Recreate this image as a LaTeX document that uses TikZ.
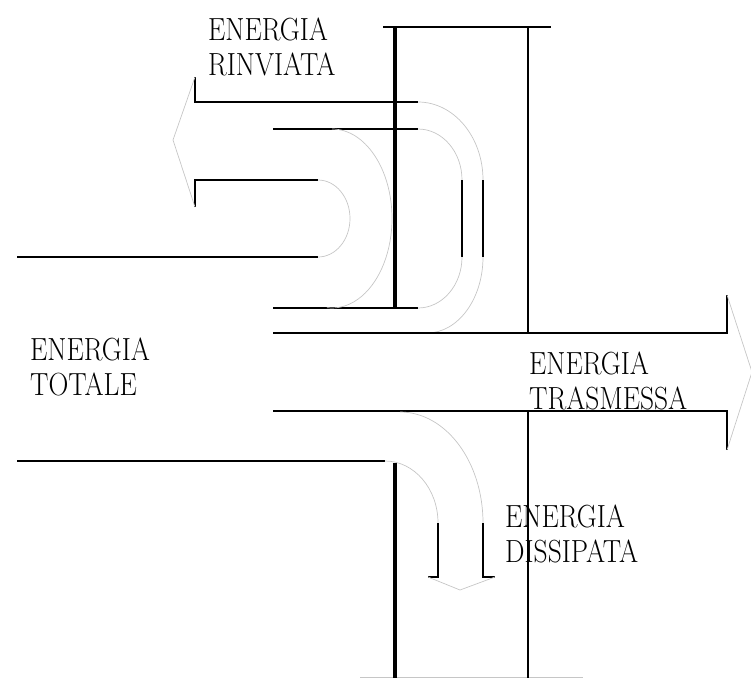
\documentclass[tikz,border=0pt]{standalone}
\usepackage{graphicx}
\usepackage{tikz}

% narrow two-line label
\newcommand{\lbl}[2]{\scalebox{0.86}[1]{\begin{tabular}[t]{@{}l@{}}#1\\#2\end{tabular}}}

\tikzset{
  pipe/.style={line width=1.2pt},
  wallA/.style={line width=3.5pt},
  wallB/.style={line width=2.4pt},
  flow/.style={gray!45, line width=0.7pt},
  lbltext/.style={font=\fontsize{32}{35}\selectfont, inner sep=0pt, anchor=base west}
}

\begin{document}
\begin{tikzpicture}[x=1pt,y=-1pt]
    \useasboundingbox (0,0) rectangle (751,678);

    % Walls:
    \draw [pipe] (383,27) -- (551,27);
    \draw [flow] (360,677) -- (583,677);
    \draw [wallA] (395,27) -- (395,308);
    \draw [wallA] (395,463) -- (395,678);
    \draw [wallB] (528,27) -- (528,333);
    \draw [wallB] (528,411) -- (528,678);

    % Incoming energy:
    \draw [pipe] (17,257) -- (318,257);
    \draw [pipe] (17,461) -- (385,461);

    % Reflected energy:
    \draw [pipe] (195,77) -- (195,102) -- (418,102);
    \draw [pipe] (195,207) -- (195,180) -- (318,180);
    \draw [flow] (195,77) -- (173,140) -- (195,207);
    \draw [flow] (318,180) arc [start angle=-90, end angle=90, x radius=32, y radius=38.5];
    \draw [pipe] (273,129) -- (418,129);
    \draw [pipe] (273,308) -- (418,308);
    \draw [flow] (332,129) arc [start angle=-90, end angle=95, x radius=60, y radius=89.5];
    \draw [flow] (418,102) arc [start angle=-90, end angle=0, x radius=65, y radius=78];
    \draw [pipe] (483,180) -- (483,257);
    \draw [flow] (483,257) arc [start angle=0, end angle=90, x radius=56, y radius=76];
    \draw [flow] (418,129) arc [start angle=-90, end angle=0, x radius=44, y radius=51];
    \draw [pipe] (462,180) -- (462,257);
    \draw [flow] (462,257) arc [start angle=0, end angle=90, x radius=44, y radius=51];

    % Transmitted energy:
    \draw [pipe] (273,333) -- (727,333) -- (727,295);
    \draw [pipe] (273,411) -- (727,411) -- (727,450);
    \draw [flow] (727,295) -- (752,372) -- (727,450);

    % Dissipated energy:
    \draw [flow] (400,412) arc [start angle=-90, end angle=0, x radius=83, y radius=111];
    \draw [pipe] (483,523) -- (483,577) -- (495,577);
    \draw [flow] (385,461) arc [start angle=-90, end angle=0, x radius=53, y radius=62];
    \draw [pipe] (438,523) -- (438,577) -- (428,577);
    \draw [flow] (428,577) -- (460,590) -- (495,577);

    % Labels:
    \node [lbltext] (tot)  at (30,360)  {\lbl{ENERGIA}{TOTALE}};
    \node [lbltext] (rinv) at (208,40)  {\lbl{ENERGIA}{RINVIATA}};
    \node [lbltext] (tras) at (529,374) {\lbl{ENERGIA}{TRASMESSA}};
    \node [lbltext] (diss) at (505,527) {\lbl{ENERGIA}{DISSIPATA}};
\end{tikzpicture}
\end{document}
